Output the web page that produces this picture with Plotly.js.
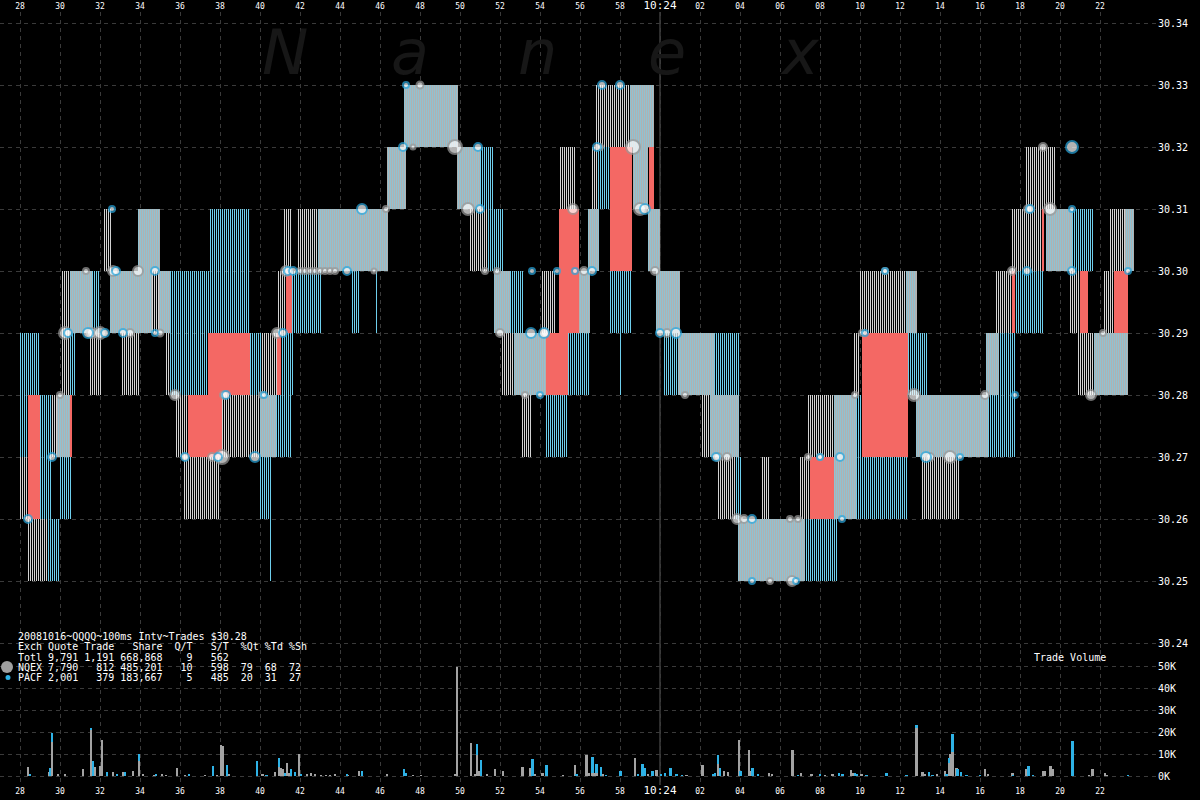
<!DOCTYPE html>
<html><head><meta charset="utf-8">
<script src="https://cdn.plot.ly/plotly-3.0.1.min.js"></script>
<style>html,body{margin:0;padding:0;background:#000;}#chart{width:1200px;height:800px;}</style>
</head><body><div id="chart"></div>
<script>
// ---- quote spread segments (seconds after 10:23:00, bid/ask prices, exchange kind) ----
const segStart = [28.0,28.0,28.4,28.4,29.0,29.4,29.6,29.85,30.5,30.0,30.15,30.5,30.5,31.65,31.5,32.2,32.5,33.1,33.9,34.55,34.95,35.3,35.5,35.8,36.2,36.4,37.45,37.4,38.1,39.5,40.05,40.8,40.05,40.53,40.15,40.85,41.05,40.9,41.3,41.2,41.6,41.9,42.9,44.65,45.83,46.35,47.2,49.85,51.05,50.5,51.4,51.7,52.25,52.1,52.7,53.1,54.1,54.3,54.25,54.95,54.95,55.4,55.85,56.4,56.6,56.85,56.8,58.5,57.5,57.55,58.03,58.65,59.45,59.4,59.8,60.15,60.9,62.7,62.1,62.5,62.9,63.75,63.9,67.25,65.1,67.0,67.4,67.5,68.7,69.7,69.85,70.0,72.3,70.1,71.85,72.4,72.85,73.1,76.4,76.3,76.8,77.6,77.6,77.8,78.3,79.1,79.3,80.6,80.5,81.0,80.9,81.7,82.15,82.7,82.5,83.25];
const segEnd   = [28.4,29.0,29.4,29.0,29.6,30.0,30.05,30.5,30.6,30.6,30.5,30.8,31.65,32.0,32.15,32.6,34.6,33.95,35.0,34.95,35.5,36.05,37.45,36.45,38.05,38.1,39.5,39.5,40.05,40.15,40.8,41.6,40.6,40.6,41.05,41.05,41.7,41.6,41.6,41.6,43.1,42.9,46.4,45.0,45.9,47.3,49.9,51.05,51.7,51.4,52.15,52.5,53.2,52.8,54.3,53.6,54.75,55.4,55.4,55.95,55.75,56.5,56.5,56.95,57.0,57.5,58.5,59.7,58.6,58.6,58.1,59.4,59.7,60.0,61.0,60.95,62.7,64.0,62.5,63.95,63.75,64.1,67.25,68.9,65.55,67.5,68.95,68.7,69.85,70.05,71.85,72.3,72.85,72.4,72.4,73.4,76.4,75.0,77.75,76.95,77.6,77.75,79.15,79.2,79.85,79.2,80.6,81.7,81.4,81.4,81.7,83.4,82.75,83.4,83.25,83.7];
const segLow   = [30.26,30.27,30.25,30.26,30.26,30.25,30.27,30.27,30.27,30.26,30.28,30.28,30.29,30.29,30.28,30.30,30.29,30.28,30.30,30.29,30.29,30.28,30.28,30.27,30.26,30.27,30.29,30.28,30.27,30.28,30.27,30.27,30.26,30.25,30.28,30.28,30.28,30.29,30.29,30.30,30.29,30.30,30.30,30.29,30.29,30.31,30.32,30.31,30.31,30.30,30.30,30.29,30.29,30.28,30.28,30.27,30.29,30.28,30.27,30.29,30.31,30.28,30.29,30.30,30.31,30.31,30.32,30.32,30.30,30.29,30.28,30.31,30.31,30.30,30.29,30.28,30.28,30.28,30.27,30.27,30.26,30.26,30.25,30.25,30.26,30.26,30.27,30.26,30.26,30.28,30.26,30.29,30.29,30.27,30.26,30.28,30.27,30.26,30.27,30.28,30.29,30.29,30.30,30.29,30.31,30.30,30.30,30.30,30.29,30.29,30.28,30.28,30.29,30.29,30.30,30.30];
const segHigh  = [30.27,30.29,30.26,30.28,30.28,30.26,30.28,30.28,30.28,30.27,30.30,30.29,30.30,30.30,30.29,30.31,30.30,30.29,30.31,30.30,30.30,30.29,30.30,30.28,30.27,30.28,30.31,30.29,30.28,30.29,30.28,30.28,30.27,30.26,30.29,30.29,30.29,30.30,30.30,30.31,30.30,30.31,30.31,30.30,30.30,30.32,30.33,30.32,30.32,30.31,30.31,30.30,30.30,30.29,30.29,30.28,30.30,30.29,30.28,30.31,30.32,30.29,30.30,30.31,30.32,30.32,30.33,30.33,30.32,30.30,30.29,30.32,30.32,30.31,30.30,30.29,30.29,30.29,30.28,30.28,30.27,30.27,30.26,30.26,30.27,30.27,30.28,30.27,30.28,30.29,30.28,30.30,30.30,30.29,30.27,30.29,30.28,30.27,30.29,30.29,30.30,30.30,30.31,30.30,30.32,30.31,30.31,30.31,30.30,30.30,30.29,30.29,30.30,30.30,30.31,30.31];
const segKind  = ['g','b','g','r','b','b','g','m','r','b','g','b','m','b','g','g','m','g','m','g','m','g','b','g','g','r','b','r','g','b','m','b','b','l','g','r','b','g','r','g','b','g','m','b','l','m','m','m','b','g','b','m','b','g','m','g','g','r','b','r','g','b','m','m','g','b','g','m','r','b','l','m','r','m','m','b','m','b','g','m','g','b','m','b','g','g','g','r','m','g','b','g','m','r','b','b','m','g','b','m','g','r','g','b','g','r','m','b','g','r','g','m','g','r','g','m'];

// ---- trades (time, price, size) ----
const nqTradeT = [30.0,30.25,31.3,31.6,32.0,32.65,33.5,33.9,35.0,35.75,36.25,37.6,38.1,38.2,40.1,40.85,41.3,42.0,42.25,42.5,42.75,43.0,43.25,43.5,43.75,45.7,46.3,47.65,48.0,49.75,50.4,51.25,51.85,52.0,53.25,54.25,55.65,56.2,57.0,58.65,59.0,59.75,60.35,61.25,62.9,63.35,63.85,64.2,65.5,66.6,66.5,66.9,67.4,68.0,69.75,70.1,71.25,72.7,73.5,74.5,76.25,77.6,78.4,79.15,79.5,81.55,82.15];
const nqTradeP = [30.28,30.29,30.30,30.29,30.29,30.30,30.29,30.30,30.29,30.28,30.27,30.27,30.27,30.28,30.28,30.29,30.30,30.30,30.30,30.30,30.30,30.30,30.30,30.30,30.30,30.30,30.31,30.32,30.33,30.32,30.31,30.30,30.30,30.29,30.28,30.29,30.31,30.30,30.32,30.32,30.31,30.30,30.29,30.28,30.27,30.27,30.26,30.26,30.25,30.25,30.26,30.26,30.27,30.27,30.28,30.29,30.30,30.28,30.27,30.27,30.28,30.30,30.31,30.32,30.31,30.28,30.29];
const nqTradeS = [6,12,6,10,12,10,8,10,7,10,6,8,14,8,6,10,10,6,6,6,6,6,6,6,6,5,6,5,7,14,12,6,6,8,6,8,10,8,6,14,12,8,8,6,8,8,10,8,6,10,6,6,6,6,6,6,6,12,8,12,8,8,8,8,12,10,6];
const paTradeT = [28.4,29.6,30.4,31.4,32.25,32.6,32.8,33.15,34.75,34.75,36.25,37.9,38.3,39.75,40.2,41.15,41.4,41.65,44.35,45.1,47.15,47.3,50.9,51.0,53.6,53.55,54.0,54.2,54.85,55.75,56.6,56.85,57.1,58.0,59.25,60.0,60.8,62.8,64.6,64.6,66.8,68.0,69.0,69.1,70.25,71.25,73.3,75.0,77.75,78.35,78.5,80.6,80.6,80.6,83.4];
const paTradeP = [30.26,30.27,30.29,30.29,30.29,30.31,30.30,30.29,30.30,30.29,30.27,30.27,30.28,30.27,30.28,30.29,30.30,30.30,30.30,30.31,30.32,30.33,30.32,30.31,30.30,30.29,30.28,30.29,30.30,30.30,30.30,30.32,30.33,30.33,30.31,30.29,30.29,30.27,30.25,30.26,30.25,30.27,30.27,30.26,30.29,30.30,30.27,30.27,30.28,30.30,30.31,30.32,30.30,30.31,30.30];
const paTradeS = [8,8,8,10,8,6,8,8,8,6,8,8,8,10,6,8,8,8,8,10,8,6,8,8,6,10,6,10,6,6,8,8,8,8,10,8,10,8,6,8,6,6,8,6,6,6,10,6,6,8,8,12,8,6,6];

// ---- volume per 100ms interval ----
const nqVolT = [28.4,29.45,29.6,29.9,30.25,31.15,31.55,31.75,32.0,32.1,32.65,33.15,33.65,33.95,34.15,34.7,35.1,35.3,35.85,36.25,37.25,37.85,38.05,38.15,38.45,40.13,40.75,40.95,41.05,41.15,41.35,41.45,41.95,42.35,42.55,42.75,43.05,43.3,43.5,43.75,44.4,44.95,46.35,47.65,48.05,49.75,49.85,50.55,50.75,50.85,50.95,51.35,51.75,52.15,53.13,53.53,53.75,54.13,55.15,55.75,56.33,56.45,56.63,56.75,56.83,57.17,58.75,59.42,59.83,61.33,62.13,62.92,63.22,63.42,63.95,64.45,64.55,65.47,65.62,66.63,67.05,67.58,68.25,68.63,69.55,69.67,70.08,72.83,73.13,73.25,73.87,74.25,74.45,74.53,74.63,74.83,76.25,76.42,77.63,78.33,79.17,79.25,79.53,79.63,81.47,81.63,82.25,82.33];
const nqVol  = [4000,2000,15500,1000,500,3000,21000,4300,4700,16500,2000,2000,2500,7000,1000,400,500,400,3600,300,300,300,14000,13500,700,600,2000,4000,3800,3000,6000,1500,10000,700,1500,600,400,200,200,1000,200,2400,1000,200,400,1000,49500,15000,1000,9700,2400,1000,3300,2400,4200,3800,500,1500,200,5000,9700,1500,1500,1500,1500,600,8300,600,2900,300,5200,5600,2400,2000,16500,12000,2400,1400,900,12000,1500,500,200,800,2900,1500,500,22000,2000,1000,800,2400,6000,10000,11000,3800,3300,800,1500,3300,2400,2400,4700,3300,300,3300,1500,300];
const paVolT = [28.5,29.5,29.6,31.55,31.65,32.35,32.85,33.25,33.95,34.8,36.45,37.65,38.35,39.85,40.33,40.95,41.25,41.55,41.75,42.05,44.35,45.1,47.2,47.3,50.85,51.05,53.63,54.33,55.83,56.63,56.83,57.05,57.3,58.03,58.92,59.13,59.25,59.63,60.05,60.25,60.53,60.83,61.1,62.67,62.75,62.92,63.0,64.03,64.63,64.92,66.9,68.0,68.95,69.13,69.75,69.87,70.33,71.33,72.33,72.83,73.45,73.63,74.33,74.45,74.63,74.88,75.05,75.33,76.0,77.67,78.43,78.67,80.63,83.42];
const paVol  = [1000,3500,4200,1000,7000,2000,1000,2000,3000,1000,500,4500,5000,7000,300,4000,1300,3300,1800,900,1000,2400,3000,1200,5000,7400,7900,5200,1000,7300,4100,4200,300,2400,600,5600,3800,2400,1000,1500,3800,1000,200,1000,1500,4100,3800,2400,3800,500,300,800,1500,800,1500,800,300,1500,300,1400,2000,300,800,2300,8000,3300,2000,300,300,300,4500,300,16000,300];

// ---- axes / text ----
const tickSeconds = [28,30,32,34,36,38,40,42,44,46,48,50,52,54,56,58,60,62,64,66,68,70,72,74,76,78,80,82];
const tickLabels  = ['28','30','32','34','36','38','40','42','44','46','48','50','52','54','56','58','10:24','02','04','06','08','10','12','14','16','18','20','22'];
const priceTicks = [30.24,30.25,30.26,30.27,30.28,30.29,30.30,30.31,30.32,30.33,30.34];
const volTicks = [0,10000,20000,30000,40000,50000];
const volTickLabels = ['0K','10K','20K','30K','40K','50K'];
const minuteMark = 60;
const intervalSec = 0.1;
const infoLines = [
  '20081016~QQQQ~100ms Intv~Trades $30.28',
  'Exch Quote Trade   Share  Q/T   S/T  %Qt %Td %Sh',
  'Totl 9,791 1,191 668,868    9   562',
  'NQEX 7,790   812 485,201   10   598  79  68  72',
  'PACF 2,001   379 183,667    5   485  20  31  27'
];
const watermark = ['N','a','n','e','x'];

// ---- layout geometry (pixels) ----
const W = 1200, H = 800, ML = 0, MR = 43, MT = 12, MB = 15;
const PW = W - ML - MR, PH = H - MT - MB;
const splitPx = 650;
const split = (H - MB - splitPx) / PH;
const pxX = p => (p - ML) / PW;
const pxY = p => (H - MB - p) / PH;
const secPerPx = 1/20;

// one thin line per 100 ms interval of each quote segment
function lines(kinds) {
  const x = [], base = [], y = [];
  segKind.forEach((k, i) => {
    if (!kinds.includes(k)) return;
    const k0 = Math.round(segStart[i] / intervalSec), k1 = Math.max(Math.round(segEnd[i] / intervalSec), k0 + 1);
    for (let n = k0; n < k1; n++) {
      x.push(n * intervalSec + secPerPx / 2);
      base.push(segLow[i]);
      y.push(+(segHigh[i] - segLow[i]).toFixed(4));
    }
  });
  return {x, base, y};
}
function solid(kinds) {
  const idx = segKind.map((v,i)=>kinds.includes(v)?i:-1).filter(i=>i>=0);
  return {
    x: idx.map(i => (segStart[i]+segEnd[i])/2),
    width: idx.map(i => segEnd[i]-segStart[i]),
    base: idx.map(i => segLow[i]),
    y: idx.map(i => +(segHigh[i]-segLow[i]).toFixed(4))
  };
}
const traces = [];
const lineW = secPerPx;
const mixBg = solid(['m']);
traces.push({type:'bar', x:mixBg.x, y:mixBg.y, base:mixBg.base, width:mixBg.width, marker:{color:'#b1b1b1', line:{width:0}}});
const gl = lines(['g']);
traces.push({type:'bar', x:gl.x, y:gl.y, base:gl.base, width:lineW, marker:{color:'rgba(210,210,210,0.999)', line:{width:0}}});
const bl = lines(['b','l']);
traces.push({type:'bar', x:bl.x, y:bl.y, base:bl.base, width:lineW, marker:{color:'rgba(110,206,236,0.999)', line:{width:0}}});
const ml = lines(['m']);
traces.push({type:'bar', x:ml.x, y:ml.y, base:ml.base, width:lineW, marker:{color:'rgba(144,194,210,0.999)', line:{width:0}}});
const rd = solid(['r']);
traces.push({type:'bar', x:rd.x, y:rd.y, base:rd.base, width:rd.width, marker:{color:'#f46864', line:{width:0}}});

traces.push({type:'scatter', mode:'markers', x:nqTradeT, y:nqTradeP,
  marker:{size:nqTradeS, color:'#ffffff', line:{color:'#9a9a9a', width:2}}, cliponaxis:false});
traces.push({type:'scatter', mode:'markers', x:paTradeT, y:paTradeP,
  marker:{size:paTradeS, color:'#ffffff', line:{color:'#2aa9e0', width:2}}, cliponaxis:false});

traces.push({type:'bar', x:nqVolT, y:nqVol, base:nqVolT.map(()=>0), width:0.09, xaxis:'x2', yaxis:'y2',
  marker:{color:'#a3a3a3', line:{width:0}}});
const paBase = paVolT.map(t => { const j = nqVolT.findIndex(v => Math.abs(v-t) < 0.005); return j>=0 ? nqVol[j] : 0; });
traces.push({type:'bar', x:paVolT, y:paVol, base:paBase, width:0.09, xaxis:'x2', yaxis:'y2',
  marker:{color:'#2eb2e6', line:{width:0}}});
traces.forEach(t => { t.showlegend = false; t.hoverinfo = 'skip'; if (!t.xaxis) { t.xaxis = 'x'; t.yaxis = 'y'; } });

const xRange = [27, 27 + PW * secPerPx];
const tickTextTop = tickLabels.map(s => s.includes(':') ? '<span style="font-size:11px">'+s+'</span>' : s);
const mono = 'DejaVu Sans Mono, Liberation Mono, monospace';
const grid = {gridcolor:'#3a3a3a', griddash:'4px,4px', gridwidth:1};

const annotations = [];
[285, 410, 537, 667, 800].forEach((cx, i) => {
  annotations.push({xref:'paper', yref:'paper', x:pxX(cx), y:pxY(52), text:watermark[i], showarrow:false,
    font:{family:'DejaVu Sans, sans-serif', size:62, color:'#171717', style:'italic'}, xanchor:'center', yanchor:'middle'});
});
const lineY = [636, 646.5, 657, 667, 677];
infoLines.forEach((s, i) => {
  annotations.push({xref:'paper', yref:'paper', x:pxX(16), y:pxY(lineY[i]), text:s.replace(/ /g,'\u00a0'), showarrow:false,
    xanchor:'left', yanchor:'middle', font:{family:mono, size:10, color:'#ffffff'}});
});
annotations.push({xref:'paper', yref:'paper', x:pxX(1032), y:pxY(657), text:'Trade\u00a0Volume', showarrow:false, xanchor:'left', yanchor:'middle',
  font:{family:mono, size:10, color:'#ffffff'}});

const layout = {
  width:W, height:H, margin:{l:ML, r:MR, t:MT, b:MB},
  paper_bgcolor:'#000000', plot_bgcolor:'#000000', barmode:'overlay', bargap:0,
  showlegend:false, hovermode:false, dragmode:false,
  xaxis: Object.assign({anchor:'y', side:'top', range:xRange, tickmode:'array', tickvals:tickSeconds, ticktext:tickTextTop,
    showgrid:true, zeroline:false, showline:false, ticks:'', ticklen:0, automargin:false, fixedrange:true,
    tickfont:{family:mono, size:8, color:'#ffffff'}}, grid),
  xaxis2: Object.assign({anchor:'y2', side:'bottom', matches:'x', range:xRange, tickmode:'array', tickvals:tickSeconds, ticktext:tickTextTop,
    showgrid:true, zeroline:false, showline:false, ticks:'', ticklen:0, automargin:false, fixedrange:true,
    tickfont:{family:mono, size:8, color:'#ffffff'}}, grid),
  yaxis: Object.assign({domain:[split, 1], side:'right', range:[30.24 - (splitPx-643)/6200, 30.34 + (23-MT)/6200],
    tickmode:'array', tickvals:priceTicks, ticktext:priceTicks.map(v=>v.toFixed(2)), fixedrange:true,
    zeroline:false, showline:false, ticks:'', automargin:false, tickfont:{family:mono, size:10, color:'#ffffff'}}, grid),
  yaxis2: Object.assign({domain:[0, split], side:'right', range:[-(H-MB-776)/22*10000, (776-splitPx)/22*10000],
    tickmode:'array', tickvals:volTicks, ticktext:volTickLabels, fixedrange:true,
    zeroline:false, showline:false, ticks:'', automargin:false, tickfont:{family:mono, size:10, color:'#ffffff'}}, grid),
  shapes:[
    {type:'line', xref:'x', yref:'paper', x0:minuteMark, x1:minuteMark, y0:0, y1:1, line:{color:'#5a5a5a', width:1}, layer:'below'},
    {type:'circle', xref:'paper', yref:'paper', x0:pxX(1), x1:pxX(13), y0:pxY(673), y1:pxY(661), fillcolor:'#a0a0a0', line:{width:0}},
    {type:'circle', xref:'paper', yref:'paper', x0:pxX(5.5), x1:pxX(10.5), y0:pxY(680), y1:pxY(675), fillcolor:'#2eb2e6', line:{width:0}}
  ],
  annotations
};
Plotly.newPlot('chart', traces, layout, {displayModeBar:false, scrollZoom:false});
</script></body></html>
